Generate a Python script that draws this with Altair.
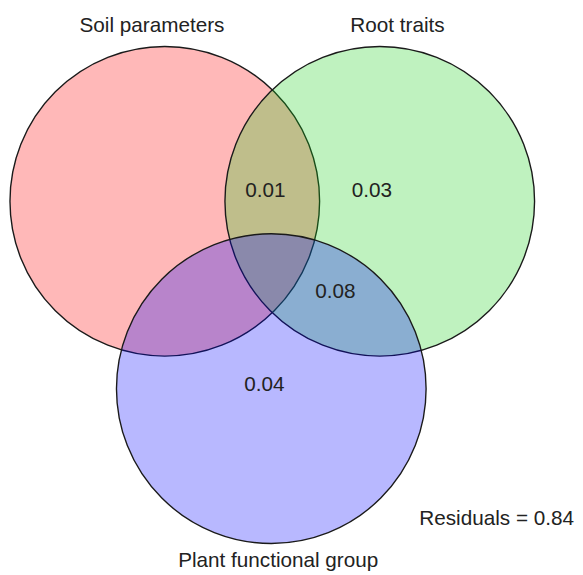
import altair as alt
import pandas as pd

# Sets (circles) of the Venn diagram
set_names = ["Soil parameters", "Root traits", "Plant functional group"]
set_colors = ["#ff0000", "#18d018", "#0000ff"]
circle_cx = [167, 385, 275]
circle_cy = [200, 200, 390]
circle_r = [157, 157, 157]

# Set labels
label_text = ["Soil parameters", "Root traits", "Plant functional group"]
label_x = [154, 403, 282]
label_y = [22, 22, 565]

# Region values
region_text = ["0.01", "0.03", "0.08", "0.04"]
region_x = [269, 377, 340, 268]
region_y = [190, 190, 292, 386]

residual_text = ["Residuals = 0.84"]
residual_x = [582]
residual_y = [522]

circles = pd.DataFrame({
    "set": set_names,
    "cx": circle_cx,
    "cy": circle_cy,
    # Vega circle symbols: radius = sqrt(size) / 2
    "size": [(2 * r) ** 2 for r in circle_r],
    "ord": list(range(len(set_names))),
})
labels = pd.DataFrame({"t": label_text, "x": label_x, "y": label_y})
regions = pd.DataFrame({"t": region_text, "x": region_x, "y": region_y})
resid = pd.DataFrame({"t": residual_text, "x": residual_x, "y": residual_y})

W, H = 575, 567
xs = alt.Scale(domain=[8, 8 + W], nice=False, zero=False)
ys = alt.Scale(domain=[8, 8 + H], nice=False, zero=False, reverse=True)

FONT = "Liberation Sans"

circ = alt.Chart(circles).mark_circle(
    fillOpacity=0.28, opacity=1, stroke="#1a1a1a", strokeWidth=1.4, strokeOpacity=1
).encode(
    x=alt.X("cx:Q", scale=xs, axis=None),
    y=alt.Y("cy:Q", scale=ys, axis=None),
    size=alt.Size("size:Q", scale=None, legend=None),
    color=alt.Color("set:N", scale=alt.Scale(domain=set_names, range=set_colors), legend=None),
    order=alt.Order("ord:Q"),
)

lab = alt.Chart(labels).mark_text(
    font=FONT, fontSize=21, color="#222222", align="center", baseline="middle"
).encode(x=alt.X("x:Q", scale=xs, axis=None), y=alt.Y("y:Q", scale=ys, axis=None), text="t:N")

reg = alt.Chart(regions).mark_text(
    font=FONT, fontSize=21, color="#222222", align="center", baseline="middle"
).encode(x=alt.X("x:Q", scale=xs, axis=None), y=alt.Y("y:Q", scale=ys, axis=None), text="t:N")

res = alt.Chart(resid).mark_text(
    font=FONT, fontSize=21, color="#222222", align="right", baseline="middle"
).encode(x=alt.X("x:Q", scale=xs, axis=None), y=alt.Y("y:Q", scale=ys, axis=None), text="t:N")

chart = alt.layer(circ, lab, reg, res).properties(
    width=W, height=H, padding=0, autosize="none", background="white"
).configure_view(stroke=None)

chart.save("out.html", embed_options={"renderer": "svg", "actions": False})
